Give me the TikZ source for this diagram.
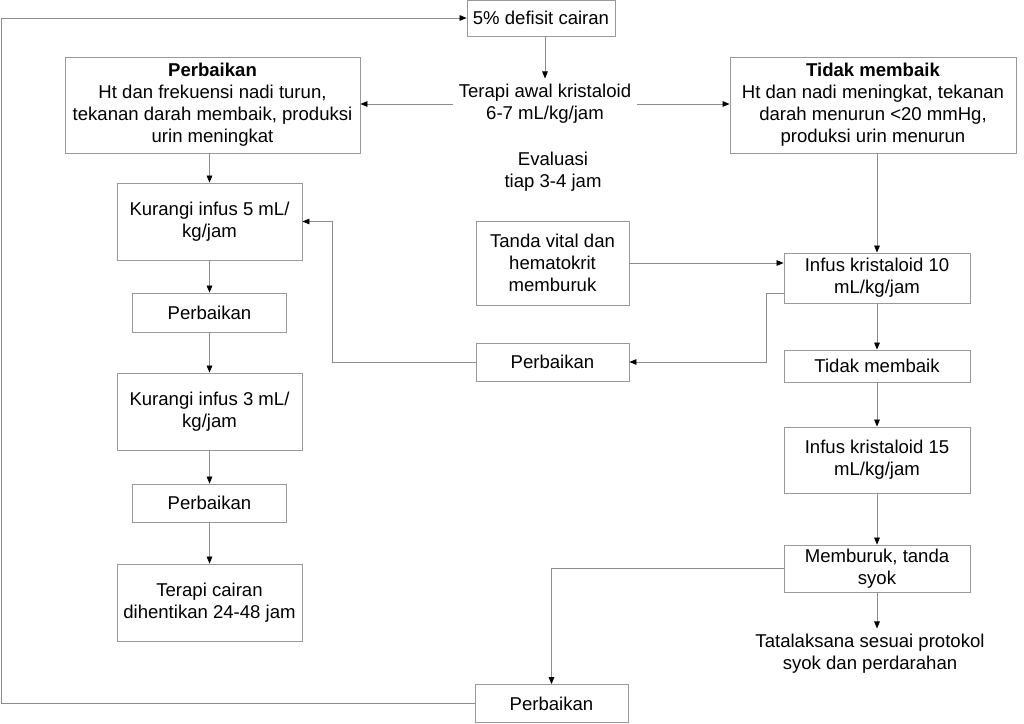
\documentclass[tikz,border=0pt]{standalone}
\usepackage{fontspec}
\setmainfont{Liberation Sans}
\usetikzlibrary{arrows.meta}

\begin{document}
\begin{tikzpicture}[x=0.025cm, y=-0.025cm,
  every node/.style={font=\fontsize{13.2}{15.6}\selectfont, align=center},
  box/.style={draw=black!40, line width=0.6pt, inner sep=2pt},
  txt/.style={inner sep=4pt},
  arr/.style={draw=black!45, line width=0.6pt, -{Triangle[black, length=5pt, width=4pt]}}]
  \useasboundingbox (0,0) rectangle (1024,723);
  % top and first split
  \node[box, minimum width=3.7cm, minimum height=0.9cm] (defisit) at (541,18) {5\% defisit cairan};
  \node[txt] (awal) at (545,104) {Terapi awal kristaloid\\6-7 mL/kg/jam};
  \node[txt] (eval) at (553,172) {Evaluasi\\tiap 3-4 jam};
  \node[box, minimum width=7.375cm, minimum height=2.4cm] (baik) at (212.5,105)
    {\textbf{Perbaikan}\\Ht dan frekuensi nadi turun,\\tekanan darah membaik, produksi\\urin meningkat};
  \node[box, minimum width=7.15cm, minimum height=2.4cm] (tidak) at (873,105)
    {\textbf{Tidak membaik}\\Ht dan nadi meningkat, tekanan\\darah menurun <20 mmHg,\\produksi urin menurun};
  % left column
  \node[box, minimum width=4.625cm, minimum height=1.925cm] (kurang5) at (209.5,221.5) {Kurangi infus 5 mL/\\kg/jam};
  \node[box, minimum width=3.85cm, minimum height=0.975cm] (baik2) at (209.5,312.5) {Perbaikan};
  \node[box, minimum width=4.625cm, minimum height=1.925cm] (kurang3) at (209.5,411.5) {Kurangi infus 3 mL/\\kg/jam};
  \node[box, minimum width=3.85cm, minimum height=0.95cm] (baik3) at (209.5,503) {Perbaikan};
  \node[box, minimum width=4.625cm, minimum height=1.925cm] (stop) at (209.5,602.5) {Terapi cairan\\dihentikan 24-48 jam};
  % middle column
  \node[box, minimum width=3.825cm, minimum height=2.1cm] (vital) at (552.5,263) {Tanda vital dan\\hematokrit\\memburuk};
  \node[box, minimum width=3.825cm, minimum height=0.95cm] (baikm) at (552.5,362) {Perbaikan};
  \node[box, minimum width=3.825cm, minimum height=0.95cm] (baikb) at (551.5,703.5) {Perbaikan};
  % right column
  \node[box, minimum width=4.65cm, minimum height=1.25cm] (inf10) at (877,278) {Infus kristaloid 10\\mL/kg/jam};
  \node[box, minimum width=4.65cm, minimum height=0.8cm] (tidak2) at (877,366) {Tidak membaik};
  \node[box, minimum width=4.65cm, minimum height=1.65cm] (inf15) at (877,460) {Infus kristaloid 15\\mL/kg/jam};
  \node[box, minimum width=4.65cm, minimum height=1.175cm] (buruk) at (877,568.5) {Memburuk, tanda\\syok};
  \node[txt] (syok) at (870,654) {Tatalaksana sesuai protokol\\syok dan perdarahan};

  \coordinate (tepi) at (1,18);
  \coordinate (k1) at (766,293);
  \coordinate (k2) at (332,362);

  \draw[arr] (defisit.south -| awal.north) -- (awal.north);
  \draw[arr] (awal.west) -- (awal.west -| baik.east);
  \draw[arr] (awal.east) -- (awal.east -| tidak.west);
  \draw[arr] (baik.south -| kurang5.north) -- (kurang5.north);
  \draw[arr] (kurang5) -- (baik2);
  \draw[arr] (baik2) -- (kurang3);
  \draw[arr] (kurang3) -- (baik3);
  \draw[arr] (baik3) -- (stop);
  \draw[arr] (tidak.south -| inf10.north) -- (inf10.north);
  \draw[arr] (vital.east) -- (vital.east -| inf10.west);
  \draw[arr] (inf10.west |- k1) -- (k1) |- (baikm.east);
  \draw[arr] (baikm.west) -- (k2) |- (kurang5.east);
  \draw[arr] (inf10) -- (tidak2);
  \draw[arr] (tidak2) -- (inf15);
  \draw[arr] (inf15) -- (buruk);
  \draw[arr] (buruk.south) -- (syok.north -| buruk.south);
  \draw[arr] (buruk.west) -| (baikb.north);
  \draw[arr] (baikb.west) -| (tepi) -- (defisit.west);
\end{tikzpicture}
\end{document}
